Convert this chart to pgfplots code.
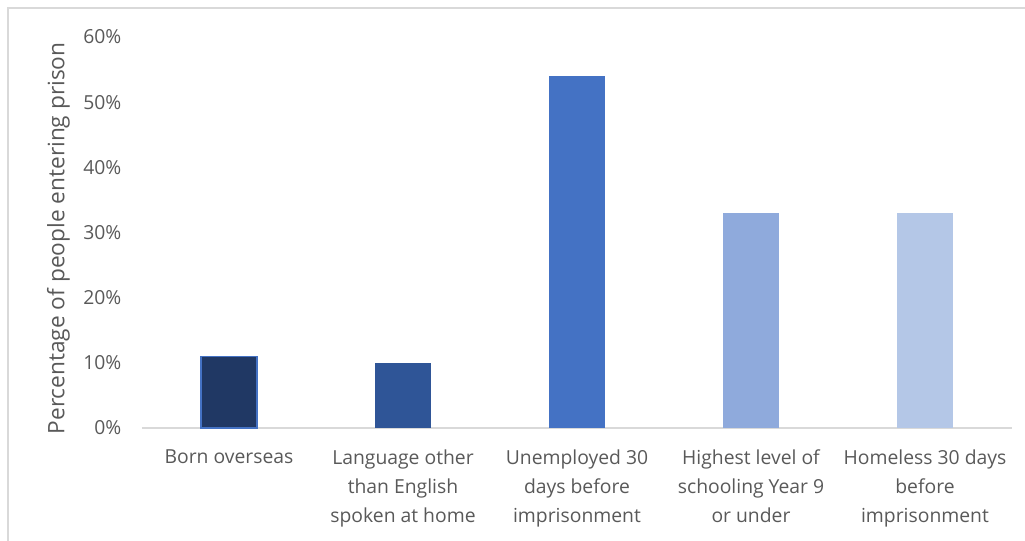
\documentclass[border=0pt]{standalone}
\usepackage{pgfplots}
\pgfplotsset{compat=1.18}
\usepackage{fontspec}
\setmainfont{Open Sans}
\definecolor{txt}{HTML}{595959}
\definecolor{c1}{HTML}{203864}
\definecolor{c2}{HTML}{2F5597}
\definecolor{c3}{HTML}{4472C4}
\definecolor{c4}{HTML}{8FAADC}
\definecolor{c5}{HTML}{B4C7E7}
\definecolor{brd}{HTML}{D9D9D9}
\begin{document}
\begin{tikzpicture}
\path[use as bounding box] (-106.5pt,-84pt) rectangle (662.25pt,321pt);
\draw[brd, line width=1.2pt] (-100.5pt,-90pt) -- (-100.5pt,315pt) -- (670pt,315pt);
\begin{axis}[
  at={(0,0)}, anchor=south west,
  scale only axis, width=652.5pt, height=293.25pt,
  xmin=-0.5, xmax=4.5, ymin=0, ymax=60,
  axis x line*=bottom, axis y line*=left,
  x axis line style={brd, line width=0.9pt, -},
  y axis line style={draw=none},
  /pgf/number format/assume math mode=true,
  xtick={0,1,2,3,4},
  xticklabels={{Born overseas}, {Language other\\than English\\spoken at home}, {Unemployed 30\\days before\\imprisonment}, {Highest level of\\schooling Year 9\\or under}, {Homeless 30 days\\before\\imprisonment}},
  xticklabel style={align=center, font=\fontsize{14.5}{21.75}\selectfont, text=txt, anchor=north, yshift=-12.5pt},
  ytick={0,10,...,60},
  yticklabel={\pgfmathprintnumber{\tick}\%},
  yticklabel style={font=\fontsize{14.5}{18}\selectfont, text=txt, anchor=east, xshift=-12pt},
  major tick length=0pt,
  ylabel={Percentage of people entering prison},
  every axis y label/.style={at={(axis description cs:-0.096,0.485)}, rotate=90, anchor=center, font=\fontsize{17}{20}\selectfont, text=txt},
  ybar, bar width=42pt, bar shift=0pt,
  clip=false,
]
\addplot[fill=c1, draw=c3, line width=0.8pt] coordinates {(0,11)};
\addplot[fill=c2, draw=none] coordinates {(1,10)};
\addplot[fill=c3, draw=none] coordinates {(2,54)};
\addplot[fill=c4, draw=none] coordinates {(3,33)};
\addplot[fill=c5, draw=none] coordinates {(4,33)};
\end{axis}
\end{tikzpicture}
\end{document}
